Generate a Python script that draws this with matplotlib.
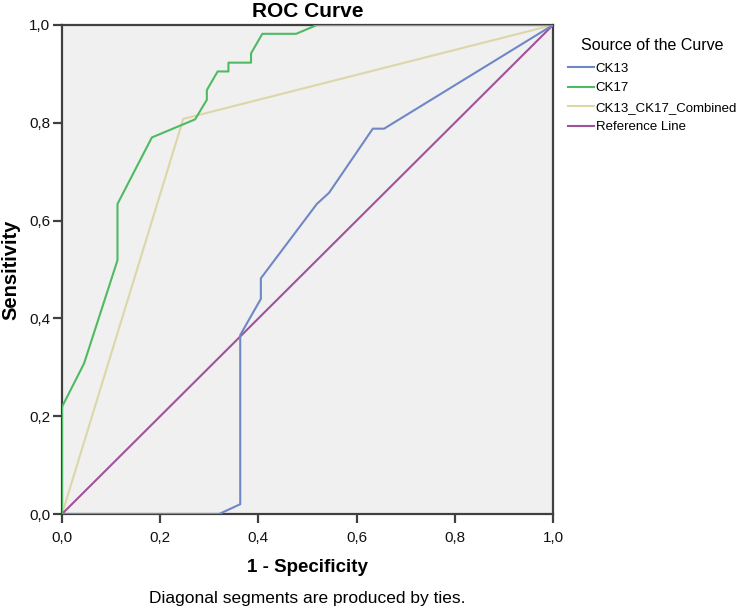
import matplotlib
matplotlib.use("Agg")
import matplotlib.pyplot as plt
from matplotlib.ticker import FuncFormatter

plt.rcParams["font.family"] = ["Liberation Sans", "DejaVu Sans"]

# ROC coordinates
ck13_fpr = [0.0, 0.320, 0.363, 0.363, 0.405, 0.405, 0.519, 0.544, 0.633, 0.656, 1.0]
ck13_tpr = [0.0, 0.0, 0.020, 0.366, 0.440, 0.482, 0.634, 0.657, 0.788, 0.788, 1.0]

ck17_fpr = [0.0, 0.0, 0.045, 0.113, 0.113, 0.183, 0.271, 0.295, 0.295, 0.317,
            0.339, 0.339, 0.385, 0.385, 0.408, 0.477, 0.519, 1.0]
ck17_tpr = [0.0, 0.219, 0.308, 0.519, 0.634, 0.770, 0.807, 0.847, 0.867, 0.905,
            0.905, 0.923, 0.923, 0.942, 0.982, 0.982, 1.0, 1.0]

comb_fpr = [0.0, 0.247, 1.0]
comb_tpr = [0.0, 0.808, 1.0]

ref_x = [0.0, 1.0]
ref_y = [0.0, 1.0]

ticks = [0.0, 0.2, 0.4, 0.6, 0.8, 1.0]

fig = plt.figure(figsize=(7.42, 6.10), dpi=100)
ax = fig.add_axes([62 / 742, 96 / 610, 491 / 742, 489 / 610])
ax.set_facecolor("#f0f0f0")

lw = 1.5
ax.plot(ck13_fpr, ck13_tpr, color="#6f87c7", lw=lw, label="CK13", zorder=4)
ax.plot(ck17_fpr, ck17_tpr, color="#4fba62", lw=lw, label="CK17", zorder=4)
ax.plot(comb_fpr, comb_tpr, color="#dcd6a9", lw=lw, label="CK13_CK17_Combined", zorder=3)
ax.plot(ref_x, ref_y, color="#a0529c", lw=lw, label="Reference Line", zorder=3)

ax.set_xlim(0, 1)
ax.set_ylim(0, 1)
ax.set_xticks(ticks)
ax.set_yticks(ticks)
fmt = FuncFormatter(lambda v, _: f"{v:.1f}".replace(".", ","))
ax.xaxis.set_major_formatter(fmt)
ax.yaxis.set_major_formatter(fmt)
ax.tick_params(direction="out", length=6.5, width=1.6, color="#404040",
               labelsize=11, labelcolor="#111111")
ax.tick_params(axis="x", pad=6)
ax.tick_params(axis="y", pad=2)
for s in ax.spines.values():
    s.set_color("#404040")
    s.set_linewidth(1.6)

ax.set_title("ROC Curve", fontsize=15, fontweight="bold", pad=6)
ax.set_xlabel("1 - Specificity", fontsize=13.5, fontweight="bold", labelpad=10)
ax.set_ylabel("Sensitivity", fontsize=14.5, fontweight="bold", labelpad=6)

fig.text(307.5 / 742, 1 - 598 / 610, "Diagonal segments are produced by ties.",
         ha="center", va="center", fontsize=12.5)

leg = ax.legend(loc="upper left", bbox_to_anchor=(568 / 742, 1 - 38 / 610),
                bbox_transform=fig.transFigure, frameon=False, fontsize=9.5,
                title="Source of the Curve", title_fontsize=11.5,
                handlelength=2.0, handletextpad=0.1, labelspacing=0.55,
                borderaxespad=0, borderpad=0)
leg._legend_box.align = "center"
leg._legend_box.sep = 7

fig.savefig("out.png", dpi=100)
